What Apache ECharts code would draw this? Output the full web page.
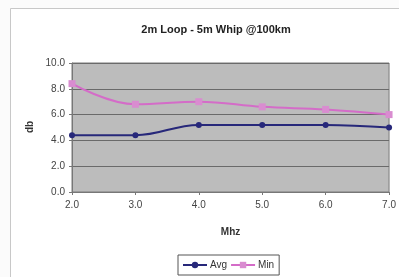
<!DOCTYPE html>
<html><head><meta charset="utf-8">
<script src="https://cdn.jsdelivr.net/npm/echarts@6/dist/echarts.min.js"></script>
<style>html,body{margin:0;padding:0;background:#fff}#c{width:399px;height:277px}</style>
</head><body><div id="c"></div>
<script>
const freqs = [2.0, 3.0, 4.0, 5.0, 6.0, 7.0];
const avgValues = [4.4, 4.4, 5.2, 5.2, 5.2, 5.0];
const minValues = [8.4, 6.8, 7.0, 6.6, 6.4, 6.0];
const chartTitle = '2m Loop - 5m Whip @100km';
const yName = 'db';

const chart = echarts.init(document.getElementById('c'));
chart.setOption({
  animation: false,
  backgroundColor: '#fbfbfb',
  graphic: [{
    type: 'rect', shape: {x: 10.5, y: 8.5, width: 400, height: 280},
    style: {fill: '#ffffff', stroke: '#c8c8c8', lineWidth: 1}, z: -10
  }, {
    type: 'text', x: 30, y: 127, rotation: Math.PI / 2,
    style: {text: yName, fill: '#333', font: 'bold 10px Liberation Sans, Arial', align: 'center', verticalAlign: 'middle'}
  }],
  title: {
    text: chartTitle, left: 211, top: 19, textAlign: 'center',
    textStyle: {fontFamily: 'Liberation Sans, Arial', fontSize: 11, fontWeight: 'bold', color: '#222'}
  },
  legend: {
    data: ['Avg', 'Min'], left: 178, top: 255, itemWidth: 24, itemHeight: 8, itemGap: 3,
    padding: [5, 5, 5, 4], borderColor: '#555', borderWidth: 1, backgroundColor: '#fff',
    textStyle: {fontFamily: 'Liberation Sans, Arial', fontSize: 10, color: '#333', padding: [0, 0, 0, -2]}
  },
  grid: {left: 72, right: 3, top: 63, bottom: 85, show: true, backgroundColor: '#bcbcbc', borderColor: '#7a7a7a', borderWidth: 1},
  xAxis: {
    type: 'value', min: 2, max: 7, interval: 1,
    name: 'Mhz', nameLocation: 'middle', nameGap: 35,
    nameTextStyle: {fontFamily: 'Liberation Sans, Arial', fontSize: 10, fontWeight: 'bold', color: '#333'},
    axisLine: {lineStyle: {color: '#777'}},
    axisTick: {show: true, length: 3, lineStyle: {color: '#777'}},
    splitLine: {show: false},
    axisLabel: {fontFamily: 'Liberation Sans, Arial', fontSize: 10, color: '#444', margin: 8, formatter: v => v.toFixed(1)}
  },
  yAxis: {
    type: 'value', min: 0, max: 10, interval: 2,
    axisLine: {show: true, lineStyle: {color: '#777'}},
    axisTick: {show: true, length: 3, lineStyle: {color: '#777'}},
    splitLine: {lineStyle: {color: '#6a6a6a', width: 1}},
    axisLabel: {fontFamily: 'Liberation Sans, Arial', fontSize: 10, color: '#444', margin: 7, formatter: v => v.toFixed(1)}
  },
  series: [
    {
      name: 'Avg', type: 'line', smooth: 0.4,
      data: freqs.map((f, i) => [f, avgValues[i]]),
      symbol: 'circle', symbolSize: 6,
      lineStyle: {color: '#27287a', width: 2}, itemStyle: {color: '#27287a'}
    },
    {
      name: 'Min', type: 'line', smooth: 0.4,
      data: freqs.map((f, i) => [f, minValues[i]]),
      symbol: 'rect', symbolSize: 7,
      lineStyle: {color: '#d46cc8', width: 2}, itemStyle: {color: '#d98cd0'}
    }
  ]
});
</script></body></html>
